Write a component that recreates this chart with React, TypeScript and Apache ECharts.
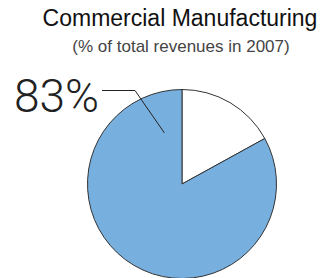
import React, { useEffect, useRef } from "react";
import * as echarts from "echarts";

const titleText = "Commercial Manufacturing";
const subtitleText = "(% of total revenues in 2007)";
const sliceNames = ["Other", "Commercial Manufacturing"];
const sliceValues = [17, 83];
const sliceColors = ["#ffffff", "#77afdf"];
const labelTexts = ["", "83%"];

export default function App() {
  const ref = useRef<HTMLDivElement>(null);
  useEffect(() => {
    if (!ref.current) return;
    const chart = echarts.init(ref.current, null, { renderer: "svg" });
    const cx = 182;
    const cy = 184;
    const r = 94.5;
    // leader line: from inside the blue slice up to the label
    const innerR = 54;
    const innerAngle = (-19 * Math.PI) / 180; // measured from 12 o'clock, clockwise
    const pInner = [cx + innerR * Math.sin(innerAngle), cy - innerR * Math.cos(innerAngle)];
    chart.setOption({
      animation: false,
      backgroundColor: "#ffffff",
      title: [
        {
          text: titleText,
          left: 180,
          top: 6,
          textAlign: "center",
          padding: 0,
          textStyle: {
            fontFamily: "Liberation Sans",
            fontSize: 23,
            fontWeight: "normal",
            color: "#111111",
          },
        },
        {
          text: subtitleText,
          left: 181,
          top: 38,
          textAlign: "center",
          padding: 0,
          textStyle: {
            fontFamily: "Liberation Sans",
            fontSize: 17,
            fontWeight: "normal",
            color: "#444444",
          },
        },
      ],
      graphic: [
        {
          type: "polyline",
          z: 100,
          silent: true,
          shape: {
            points: [
              [102, 90.5],
              [135, 90.5],
              pInner,
            ],
          },
          style: { stroke: "#222222", lineWidth: 1, fill: "none" },
        },
      ],
      series: [
        {
          type: "pie",
          center: [cx, cy],
          radius: [0, r],
          startAngle: 90,
          clockwise: true,
          silent: true,
          itemStyle: { borderColor: "#333333", borderWidth: 1 },
          label: {
            show: true,
            position: "outside",
            overflow: "none",
            formatter: (p: any) => labelTexts[p.dataIndex],
            fontFamily: "Roboto",
            fontWeight: 300,
            fontSize: 46,
            color: "#222222",
          },
          labelLine: { show: false },
          labelLayout: (params: any) => {
            if (params.dataIndex !== 1) return {};
            return {
              x: 99,
              y: 96,
              align: "right",
              verticalAlign: "middle",
            };
          },
          data: sliceValues.map((v, i) => ({
            name: sliceNames[i],
            value: v,
            itemStyle: { color: sliceColors[i] },
            label: { show: i === 1 },
          })),
        },
      ],
    });
    return () => chart.dispose();
  }, []);
  return (
    <div
      ref={ref}
      style={{ position: "fixed", left: 0, top: 0, width: 324, height: 278 }}
    />
  );
}
